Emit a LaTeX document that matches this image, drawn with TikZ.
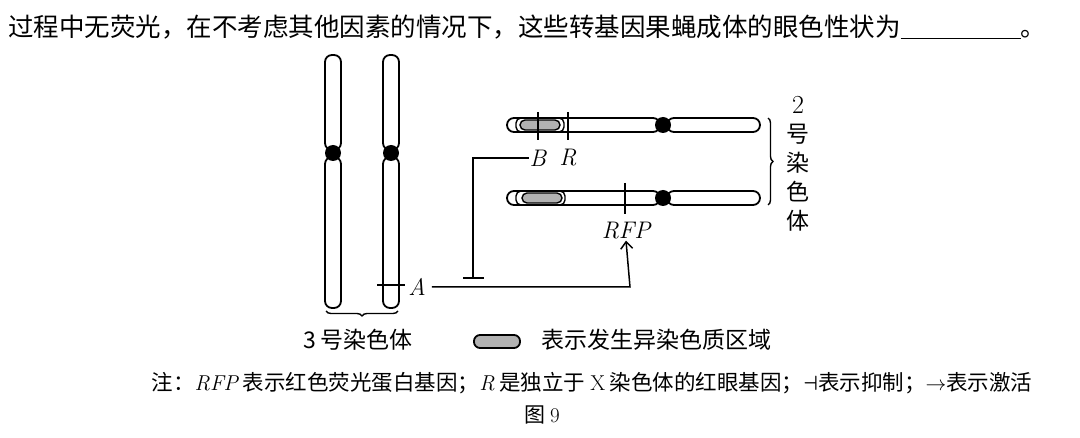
\documentclass[tikz,border=0pt]{standalone}
\usepackage{fontspec}
\newfontfamily\cjk{Noto Sans CJK SC}
\usetikzlibrary{decorations.pathreplacing,arrows.meta}
\begin{document}
\begin{tikzpicture}[x=1pt,y=-1pt,
  arm/.style={draw,line width=1.8pt,rounded corners=7pt},
  het/.style={draw,line width=1.4pt,fill=gray!60,rounded corners=5pt},
  tick/.style={line width=1.5pt},
  gene/.style={font=\itshape\fontsize{24}{24}\selectfont,inner sep=1pt},
  cjkt/.style={font=\cjk\fontsize{23}{23}\selectfont,inner sep=0pt}]
\useasboundingbox (0,0) rectangle (1080,438);
\node[cjkt,anchor=west,font=\cjk\fontsize{25.5}{25.5}\selectfont] (q) at (8,27) {过程中无荧光，在不考虑其他因素的情况下，这些转基因果蝇成体的眼色性状为\underline{\hspace{120pt}}。};
% 3 号染色体
\def\w{8}
\foreach \c in {333,391}{
  \draw[arm] (\c-\w,55) rectangle (\c+\w,150);
  \draw[arm] (\c-\w,157) rectangle (\c+\w,308);
  \fill (\c,153) circle (8);
}
\draw[tick] (377,285) -- (405,285);
\node[gene] (A) at (417,287) {A};
\draw[decorate,decoration={brace,mirror,amplitude=5pt},line width=1.4pt] (326,311) -- (398,311);
\node[cjkt] (c3) at (358,340) {3 号染色体};
% 2 号染色体
\foreach \y in {125,198}{
  \draw[arm] (507,\y-7) rectangle (660,\y+7);
  \draw[arm] (667,\y-7) rectangle (760,\y+7);
  \fill (663,\y) circle (8);
}
\draw[line width=1.4pt,rounded corners=5pt] (516,118) rectangle (564,132);
\draw[het] (520,120) rectangle (560,130);
\draw[line width=1.4pt,rounded corners=5pt] (516,191) rectangle (565,205);
\draw[het] (522,193) rectangle (562,203);
\draw[tick] (538,112) -- (538,140);
\draw[tick] (568,112) -- (568,140);
\draw[tick] (625,183) -- (625,214);
\node[gene] (B) at (538,158) {B};
\node[gene] (R) at (568,158) {R};
\node[gene] (RFP) at (626,231) {RFP};
\draw[decorate,decoration={brace,amplitude=5pt},line width=1.4pt] (768,118) -- (768,205);
\node[inner sep=0pt,align=center,font=\cjk\fontsize{23}{29}\selectfont] (c2) at (798,164) {{\rmfamily\fontsize{26}{29}\selectfont 2}\\号\\染\\色\\体};
% regulation
\draw[line width=1.5pt] (B.west) -- (473,158) -- (473,278);
\draw[line width=1.5pt] (463,278) -- (484,278);
\draw[line width=1.5pt,-{Straight Barb[length=7pt,width=12pt]}] (A.east) ++(5,0) -- (630,287) -- (RFP.south);
% legend
\draw[het,line width=1.8pt,rounded corners=6pt] (474,335) rectangle (520,348);
\node[cjkt,anchor=west] (leg) at (541,340) {表示发生异染色质区域};
\node[cjkt,font=\cjk\fontsize{21.5}{21.5}\selectfont] (note) at (592,383) {注：{\rmfamily\itshape RFP} 表示红色荧光蛋白基因；{\rmfamily\itshape R} 是独立于 {\rmfamily X} 染色体的红眼基因；{\boldmath$\dashv$}表示抑制；$\rightarrow$表示激活};
\node[cjkt,font=\cjk\fontsize{21}{21}\selectfont] (fig) at (542,415) {图 {\rmfamily 9}};
\end{tikzpicture}
\end{document}
